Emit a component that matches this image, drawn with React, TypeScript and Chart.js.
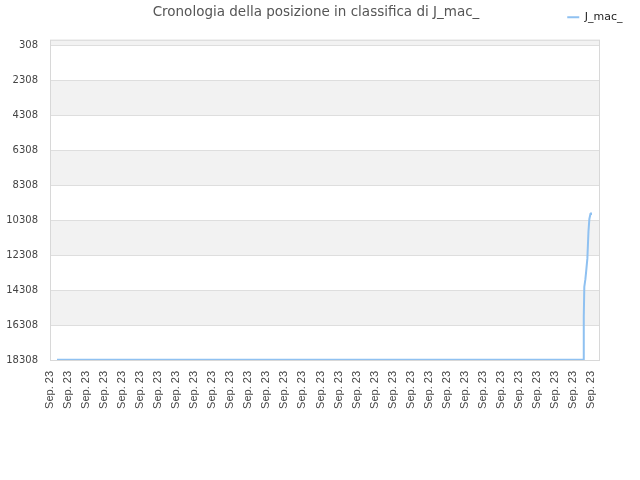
import React, { useRef, useEffect } from 'react';
import { Chart, registerables, Plugin } from 'chart.js';

Chart.register(...registerables);

const chartTitle = 'Cronologia della posizione in classifica di J_mac_';
const seriesName = 'J_mac_';

// x position of each point (in label steps) and ranking at that point
const pointX = [0.39, 29.6, 29.6, 29.63, 29.69, 29.73, 29.8, 29.86, 29.91, 29.97, 30.0];
const pointRank = [18300, 18300, 15850, 14130, 13690, 13270, 12500, 10980, 10250, 9970, 9880];

const xTickLabels = [
    'Sep. 23', 'Sep. 23', 'Sep. 23', 'Sep. 23', 'Sep. 23', 'Sep. 23', 'Sep. 23', 'Sep. 23',
    'Sep. 23', 'Sep. 23', 'Sep. 23', 'Sep. 23', 'Sep. 23', 'Sep. 23', 'Sep. 23', 'Sep. 23',
    'Sep. 23', 'Sep. 23', 'Sep. 23', 'Sep. 23', 'Sep. 23', 'Sep. 23', 'Sep. 23', 'Sep. 23',
    'Sep. 23', 'Sep. 23', 'Sep. 23', 'Sep. 23', 'Sep. 23', 'Sep. 23', 'Sep. 23',
];
const yTicks = [308, 2308, 4308, 6308, 8308, 10308, 12308, 14308, 16308, 18308];
const yMin = 1;
const yMax = 18308;

const lineColor = '#8fc1f1';
const bandColor = '#f2f2f2';

// alternating grey bands behind the grid, plus a frame round the plot area
const bandsPlugin: Plugin<'line'> = {
    id: 'bands',
    beforeDraw(chart) {
        const { ctx, chartArea } = chart;
        const y = chart.scales.y;
        const edges = [yMin, ...yTicks];
        ctx.save();
        ctx.fillStyle = bandColor;
        for (let i = 0; i < edges.length - 1; i++) {
            if (i % 2 === 0) {
                const a = y.getPixelForValue(edges[i]);
                const b = y.getPixelForValue(edges[i + 1]);
                ctx.fillRect(chartArea.left, Math.min(a, b), chartArea.right - chartArea.left, Math.abs(b - a));
            }
        }
        ctx.restore();
    },
    afterDraw(chart) {
        const { ctx, chartArea } = chart;
        ctx.save();
        ctx.strokeStyle = '#d8d8d8';
        ctx.lineWidth = 1;
        ctx.strokeRect(chartArea.left + 0.5, chartArea.top + 0.5, chartArea.right - chartArea.left - 1, chartArea.bottom - chartArea.top);
        ctx.restore();
    },
};

const RankChart: React.FC = () => {
    const chartRef = useRef<HTMLCanvasElement | null>(null);
    const chartInstance = useRef<Chart | null>(null);

    useEffect(() => {
        document.body.style.margin = '0';
        if (!chartRef.current) return;
        const ctx = chartRef.current.getContext('2d');
        if (!ctx) return;

        if (chartInstance.current) {
            chartInstance.current.destroy();
        }

        chartInstance.current = new Chart(ctx, {
            type: 'line',
            data: {
                datasets: [
                    {
                        label: seriesName,
                        data: pointX.map((x, i) => ({ x, y: pointRank[i] })),
                        borderColor: lineColor,
                        backgroundColor: lineColor,
                        borderWidth: 2,
                        pointRadius: 0,
                        tension: 0,
                        clip: false,
                    },
                ],
            },
            options: {
                responsive: false,
                maintainAspectRatio: false,
                animation: false,
                layout: { padding: { left: 0, right: 8, top: 0, bottom: 0 } },
                scales: {
                    x: {
                        type: 'linear',
                        min: 0,
                        max: 30.5,
                        grid: { display: false, drawTicks: false },
                        border: { display: false },
                        ticks: {
                            stepSize: 1,
                            includeBounds: false,
                            autoSkip: false,
                            minRotation: 90,
                            maxRotation: 90,
                            padding: 11,
                            color: '#444',
                            font: { family: 'Liberation Sans', size: 11 },
                            callback: (value) => xTickLabels[Number(value)] ?? '',
                        },
                        afterFit: (scale) => {
                            scale.height = 120;
                        },
                    },
                    y: {
                        type: 'linear',
                        reverse: true,
                        min: yMin,
                        max: yMax,
                        afterBuildTicks: (scale) => {
                            scale.ticks = yTicks.map((v) => ({ value: v }));
                        },
                        grid: { color: '#dedede', drawTicks: false },
                        border: { display: false },
                        ticks: {
                            padding: 12,
                            color: '#444',
                            font: { family: 'DejaVu Sans', size: 10 },
                            callback: (value) => String(value),
                        },
                        afterFit: (scale) => {
                            scale.width = 50;
                        },
                    },
                    // empty right-hand axis, only keeps a margin beside the plot
                    yRight: {
                        type: 'linear',
                        position: 'right',
                        display: true,
                        grid: { display: false, drawTicks: false },
                        border: { display: false },
                        ticks: { display: false },
                        afterFit: (scale) => {
                            scale.width = 32;
                        },
                    },
                },
                plugins: {
                    title: {
                        display: true,
                        text: chartTitle,
                        color: '#555',
                        font: { family: 'DejaVu Sans', size: 13.5, weight: 'normal' },
                        padding: { top: 4, bottom: -18 },
                    },
                    legend: {
                        display: true,
                        position: 'top',
                        align: 'end',
                        labels: {
                            usePointStyle: true,
                            pointStyle: 'line',
                            pointStyleWidth: 12,
                            padding: 9.5,
                            color: '#222',
                            font: { family: 'DejaVu Sans', size: 11 },
                        },
                    },
                    // blank spacer between legend and plot
                    subtitle: {
                        display: true,
                        text: ' ',
                        weight: 500,
                        font: { size: 1, lineHeight: 1 },
                        padding: { top: 6, bottom: 0 },
                    },
                    tooltip: { enabled: false },
                },
            },
            plugins: [bandsPlugin],
        });

        return () => {
            if (chartInstance.current) {
                chartInstance.current.destroy();
                chartInstance.current = null;
            }
        };
    }, []);

    return (
        <div style={{ width: 640, height: 480 }}>
            <canvas ref={chartRef} width={640} height={480}></canvas>
        </div>
    );
};

export default function App() {
    return <RankChart />;
}
